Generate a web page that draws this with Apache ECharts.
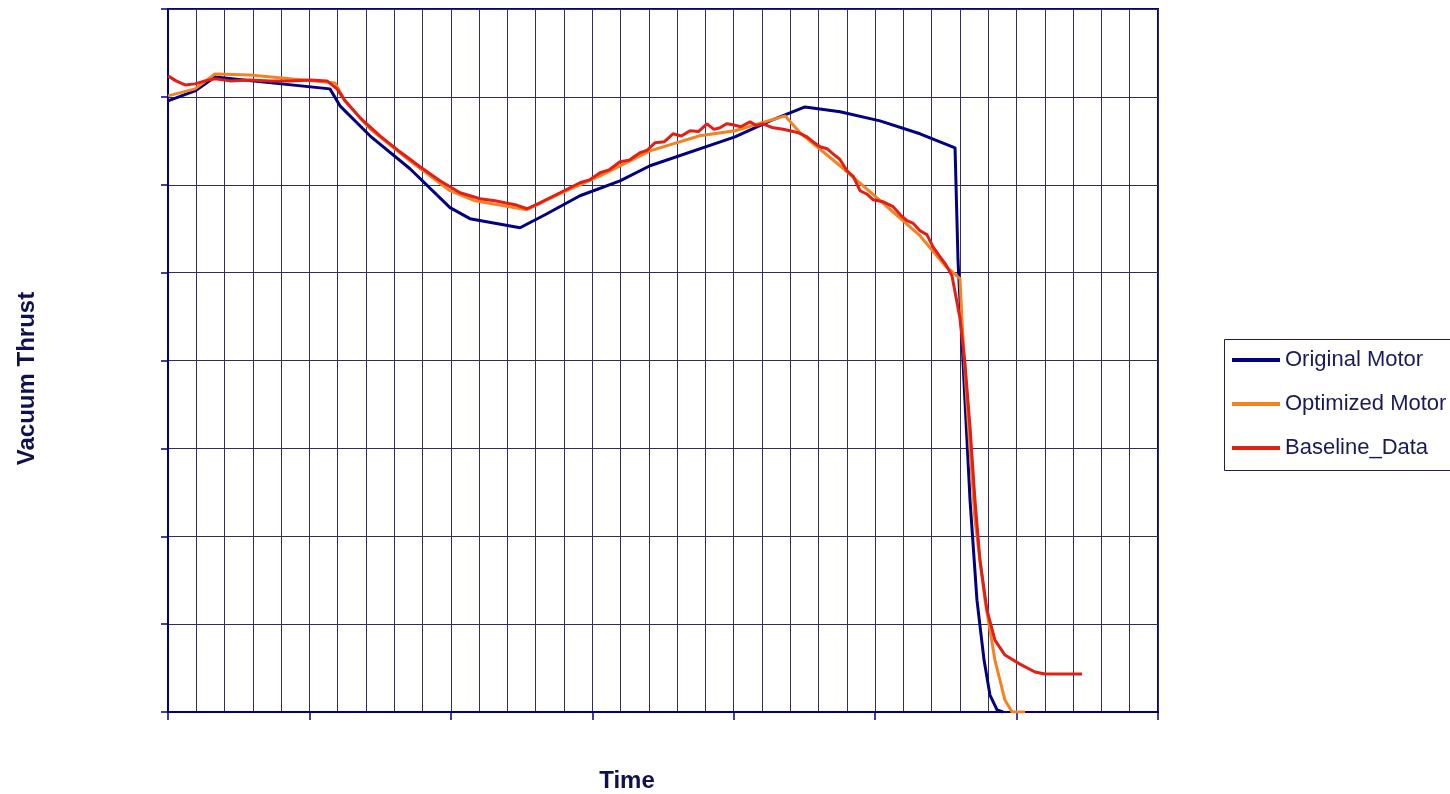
<!DOCTYPE html>
<html>
<head>
<meta charset="utf-8">
<title>Vacuum Thrust vs Time</title>
<script src="https://cdn.jsdelivr.net/npm/echarts@6/dist/echarts.min.js"></script>
<style>
  html, body { margin: 0; padding: 0; background: #ffffff; }
  #chart { width: 1450px; height: 794px; }
</style>
</head>
<body>
<div id="chart"></div>
<script>
// Series names
const seriesNames = ['Original Motor', 'Optimized Motor', 'Baseline_Data'];

// Original Motor: [time, thrust]
const originalMotor = [
  [0, 69.55], [1.91, 70.68], [3.32, 72.27], [11.45, 70.91], [12.16, 68.98],
  [14.28, 65.57], [17.11, 61.82], [19.94, 57.39], [21.35, 56.14], [24.89, 55.11],
  [26.66, 56.59], [29.13, 58.75], [31.96, 60.45], [34.08, 62.16], [40.09, 65.45],
  [42.57, 67.27], [45.04, 68.86], [47.52, 68.30], [50.34, 67.27], [53.17, 65.80],
  [55.65, 64.20], [55.86, 51.36], [56.0, 46.82], [56.35, 35.45], [56.71, 24.09],
  [57.20, 12.73], [57.70, 5.91], [58.12, 1.93], [58.62, 0.23], [59.04, 0]
];

// Optimized Motor: [time, thrust]
const optimizedMotor = [
  [0, 70.11], [1.91, 70.91], [3.32, 72.61], [5.80, 72.50], [11.81, 71.59],
  [12.52, 69.55], [14.28, 66.36], [17.11, 62.73], [19.94, 59.32], [21.71, 58.18],
  [25.38, 57.16], [27.72, 58.98], [30.55, 61.02], [34.08, 63.86], [37.6, 65.57],
  [40.09, 66.14], [43.63, 67.84], [44.69, 65.91], [47.52, 62.16], [49.85, 58.9],
  [53.17, 54.2], [54.94, 50.80], [56.0, 49.32], [56.14, 44.55], [56.57, 33.18],
  [57.06, 21.82], [57.77, 12.73], [58.47, 5.91], [59.18, 1.36], [59.68, 0],
  [60.60, 0]
];

// Baseline_Data (measured, noisy): [time, thrust]
const baselineData = [
  [0, 72.39], [0.57, 71.82], [1.20, 71.36], [1.91, 71.48], [2.62, 71.82],
  [3.32, 72.05], [4.38, 71.82], [5.80, 71.93], [7.21, 71.82], [8.63, 71.82],
  [10.04, 71.93], [11.24, 71.82], [11.95, 70.91], [12.52, 69.55], [13.58, 67.61],
  [14.99, 65.57], [16.40, 63.75], [17.82, 62.05], [19.23, 60.45], [20.65, 59.09],
  [22.06, 58.41], [23.12, 58.18], [23.83, 57.95], [24.54, 57.73], [25.38, 57.27],
  [26.30, 57.95], [27.72, 59.09], [29.13, 60.23], [29.80, 60.55], [30.55, 61.36],
  [31.20, 61.70], [31.96, 62.61], [32.60, 62.80], [33.37, 63.64], [33.90, 63.95],
  [34.43, 64.77], [35.10, 64.90], [35.71, 65.80], [36.30, 65.55], [36.91, 66.14],
  [37.50, 66.05], [38.11, 66.93], [38.60, 66.30], [39.03, 66.48], [39.50, 66.95],
  [39.95, 66.82], [40.50, 66.60], [41.15, 67.16], [41.60, 66.75], [42.07, 66.93],
  [42.78, 66.48], [43.40, 66.35], [43.98, 66.14], [44.60, 65.90], [45.18, 65.45],
  [45.60, 64.90], [46.10, 64.32], [46.60, 64.10], [47.02, 63.52], [47.50, 62.90],
  [48.01, 61.59], [48.45, 60.95], [48.93, 59.32], [49.40, 58.95], [49.85, 58.30],
  [50.50, 58.10], [51.27, 57.50], [51.80, 56.55], [52.25, 55.91], [52.70, 55.60],
  [53.17, 54.77], [53.66, 54.32], [54.10, 52.90], [54.58, 51.82], [55.00, 50.90],
  [55.43, 49.66], [55.99, 44.89], [56.35, 39.66], [56.71, 32.39], [57.06, 24.09],
  [57.41, 17.27], [57.91, 11.59], [58.47, 8.18], [59.18, 6.48], [60.24, 5.45],
  [61.30, 4.55], [62.01, 4.32], [64.63, 4.32]
];

// Axis ranges
const timeRange = { min: 0, max: 70, interval: 10, minorSplits: 5 };
const thrustRange = { min: 0, max: 80, interval: 10 };

const colors = ['#000080', '#F58220', '#E31E14'];
const gridLineColor = '#2e2e62';
const navy = '#000080';
const labelColor = '#10104f';
const fontFamily = 'Liberation Sans, Arial, sans-serif';

const chart = echarts.init(document.getElementById('chart'), null, { renderer: 'canvas' });

const datasets = [originalMotor, optimizedMotor, baselineData];

chart.setOption({
  animation: false,
  backgroundColor: '#ffffff',
  grid: {
    left: 168, top: 9, right: 292, bottom: 82,
    outerBoundsMode: 'none',
    containLabel: false,
    show: true, borderColor: navy, borderWidth: 2, backgroundColor: 'transparent'
  },
  // Legend frame runs past the right edge of the canvas
  graphic: [{
    type: 'rect',
    left: 1224, top: 339,
    shape: { width: 320, height: 131 },
    style: { fill: 'transparent', stroke: '#1c1c5c', lineWidth: 1 },
    silent: true,
    z: 0
  }],
  legend: {
    orient: 'vertical',
    left: 1224, top: 339,
    padding: [10, 8, 10, 8],
    itemGap: 22,
    itemWidth: 48, itemHeight: 4,
    icon: 'rect',
    borderWidth: 0,
    textStyle: { fontFamily: fontFamily, fontSize: 22, color: '#1a1a5a', lineHeight: 22 },
    data: seriesNames
  },
  xAxis: {
    type: 'value',
    min: timeRange.min, max: timeRange.max, interval: timeRange.interval,
    name: 'Time',
    nameLocation: 'middle',
    nameGap: 57,
    nameTextStyle: { fontFamily: fontFamily, fontSize: 24, fontWeight: 'bold', color: labelColor, padding: [0, 72, 0, 0] },
    axisLine: { show: true, lineStyle: { color: navy, width: 2 } },
    axisTick: { show: true, length: 8, lineStyle: { color: navy, width: 1.5 } },
    axisLabel: { show: false },
    splitLine: { show: true, lineStyle: { color: gridLineColor, width: 1 } },
    minorTick: { show: false, splitNumber: timeRange.minorSplits },
    minorSplitLine: { show: true, lineStyle: { color: gridLineColor, width: 1 } }
  },
  yAxis: {
    type: 'value',
    min: thrustRange.min, max: thrustRange.max, interval: thrustRange.interval,
    name: 'Vacuum Thrust',
    nameLocation: 'middle',
    nameGap: 129,
    nameRotate: 90,
    nameTextStyle: { fontFamily: fontFamily, fontSize: 24, fontWeight: 'bold', color: labelColor, padding: [0, 36, 0, 0] },
    axisLine: { show: true, lineStyle: { color: navy, width: 2 } },
    axisTick: { show: true, length: 7, lineStyle: { color: navy, width: 1.5 } },
    axisLabel: { show: false },
    splitLine: { show: true, lineStyle: { color: gridLineColor, width: 1 } }
  },
  series: seriesNames.map((name, i) => ({
    name: name,
    type: 'line',
    data: datasets[i],
    showSymbol: false,
    symbol: 'none',
    smooth: false,
    color: colors[i],
    lineStyle: { color: colors[i], width: 3 },
    z: 2 + i
  }))
});
</script>
</body>
</html>
